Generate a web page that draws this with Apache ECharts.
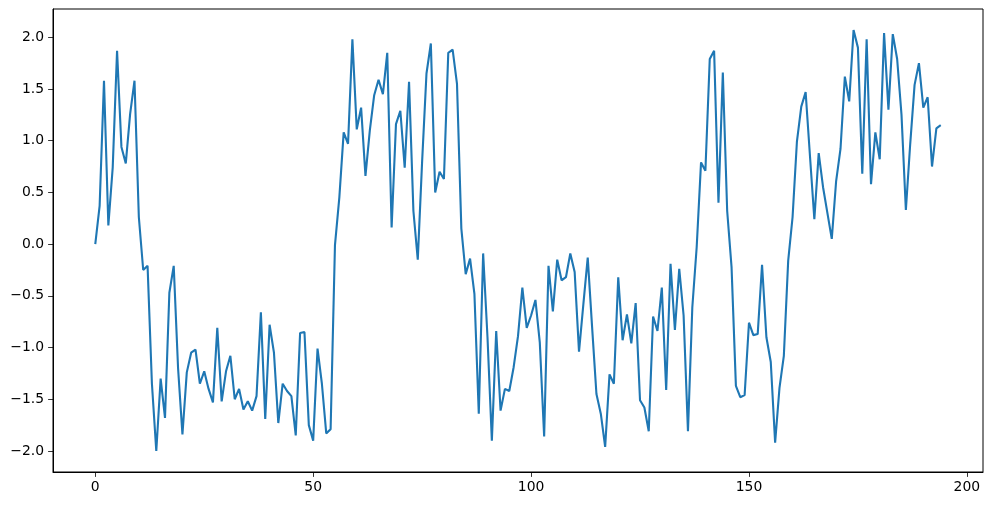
<!DOCTYPE html>
<html>
<head>
<meta charset="utf-8">
<script src="https://cdn.jsdelivr.net/npm/echarts@6/dist/echarts.min.js"></script>
<style>html,body{margin:0;padding:0;background:#fff;}#c{width:993px;height:505px;}</style>
</head>
<body>
<div id="c"></div>
<script>
const values = [
 0.00, 0.37, 1.58, 0.18, 0.74, 1.87, 0.94, 0.78, 1.26, 1.58,
 0.26, -0.25, -0.21, -1.35, -2.00, -1.30, -1.68, -0.47, -0.21, -1.20,
 -1.84, -1.24, -1.05, -1.02, -1.35, -1.23, -1.40, -1.53, -0.81, -1.52,
 -1.23, -1.08, -1.50, -1.40, -1.60, -1.52, -1.61, -1.47, -0.66, -1.69,
 -0.78, -1.05, -1.73, -1.35, -1.42, -1.47, -1.85, -0.86, -0.85, -1.75,
 -1.90, -1.01, -1.35, -1.83, -1.79, -0.01, 0.45, 1.08, 0.97, 1.98,
 1.11, 1.32, 0.66, 1.10, 1.44, 1.59, 1.45, 1.85, 0.16, 1.16,
 1.29, 0.74, 1.57, 0.32, -0.15, 0.80, 1.65, 1.94, 0.50, 0.70,
 0.63, 1.85, 1.88, 1.55, 0.15, -0.29, -0.14, -0.48, -1.64, -0.09,
 -0.90, -1.90, -0.84, -1.61, -1.40, -1.42, -1.19, -0.89, -0.42, -0.81,
 -0.69, -0.54, -0.95, -1.86, -0.21, -0.65, -0.15, -0.35, -0.32, -0.09,
 -0.27, -1.04, -0.58, -0.13, -0.80, -1.45, -1.64, -1.96, -1.26, -1.35,
 -0.32, -0.93, -0.68, -0.96, -0.57, -1.51, -1.58, -1.81, -0.70, -0.84,
 -0.42, -1.41, -0.19, -0.83, -0.24, -0.69, -1.81, -0.61, -0.03, 0.79,
 0.71, 1.79, 1.87, 0.40, 1.66, 0.32, -0.22, -1.37, -1.48, -1.46,
 -0.76, -0.88, -0.87, -0.20, -0.90, -1.14, -1.92, -1.39, -1.08, -0.16,
 0.26, 0.99, 1.33, 1.47, 0.85, 0.24, 0.88, 0.55, 0.30, 0.05,
 0.61, 0.92, 1.62, 1.38, 2.07, 1.90, 0.68, 1.98, 0.58, 1.08,
 0.82, 2.04, 1.30, 2.03, 1.79, 1.25, 0.33, 0.97, 1.54, 1.75,
 1.32, 1.42, 0.75, 1.12, 1.15
];
const xTicks = [0, 50, 100, 150, 200];
const yTicks = [-2.0, -1.5, -1.0, -0.5, 0.0, 0.5, 1.0, 1.5, 2.0];

const points = values.map((v, i) => [i, v]);
const chart = echarts.init(document.getElementById('c'), null, {renderer: 'canvas'});
const font = {fontFamily: 'DejaVu Sans', fontSize: 13.9, color: '#000'};
const axisLine = {show: true, onZero: false, lineStyle: {color: '#000', width: 1}};
chart.setOption({
  animation: false,
  backgroundColor: '#fff',
  grid: {left: 53, right: 10, top: 9, bottom: 33, show: true, borderColor: '#000', borderWidth: 1, backgroundColor: 'transparent'},
  xAxis: {
    type: 'value', min: -9.7, max: 203.7,
    axisLine: axisLine,
    splitLine: {show: false},
    axisTick: {show: true, inside: false, length: 4.9, lineStyle: {color: '#000', width: 0.8}, customValues: xTicks},
    axisLabel: Object.assign({margin: 8, customValues: xTicks, formatter: v => String(Math.round(v))}, font)
  },
  yAxis: {
    type: 'value', min: -2.2035, max: 2.2735,
    axisLine: axisLine,
    splitLine: {show: false},
    axisTick: {show: true, inside: false, length: 4.9, lineStyle: {color: '#000', width: 0.8}, customValues: yTicks},
    axisLabel: Object.assign({margin: 9, customValues: yTicks, formatter: v => v.toFixed(1).replace('-', '\u2212')}, font)
  },
  series: [{
    type: 'line', data: points, showSymbol: false, symbol: 'none',
    lineStyle: {color: '#1f77b4', width: 2.1}, itemStyle: {color: '#1f77b4'}
  }]
});
</script>
</body>
</html>
